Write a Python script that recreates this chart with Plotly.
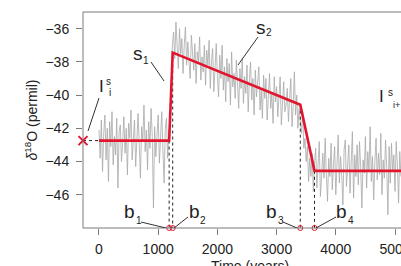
import plotly.graph_objects as go

# ---------------- data ----------------
time_step = 20  # years between samples, first sample at 0
d18o = [
    # 0 - 1180
    -42.1, -43.8, -41.5, -44.6, -42.3, -41.2, -43.9, -42.0, -45.2, -41.6,
    -43.1, -41.0, -44.2, -42.5, -43.6, -41.4, -45.6, -42.2, -41.8, -44.0,
    -42.9, -41.3, -43.5, -42.0, -44.8, -41.7, -42.6, -40.9, -43.9, -42.4,
    -41.5, -44.3, -42.8, -41.1, -43.0, -45.0, -41.9, -42.7, -40.6, -43.4,
    -42.1, -44.5, -41.6, -43.2, -40.8, -42.5, -46.8, -41.9, -43.7, -42.3,
    -41.2, -44.1, -42.6, -41.0, -43.3, -45.3, -42.0, -41.4, -43.8, -42.2,
    # 1200 - 3380
    -41.8, -39.2, -37.0, -36.2, -37.8, -35.6, -37.1, -38.4, -36.0, -37.5,
    -36.6, -38.7, -37.0, -35.9, -38.2, -36.8, -37.9, -39.0, -36.4, -37.6,
    -38.5, -36.9, -39.3, -37.4, -38.0, -36.5, -39.1, -37.7, -38.6, -37.0,
    -39.4, -37.3, -38.2, -36.7, -39.6, -38.0, -37.2, -39.8, -38.5, -36.9,
    -38.9, -40.1, -37.6, -39.0, -37.0, -39.7, -38.3, -40.4, -37.8, -39.2,
    -38.1, -40.6, -37.4, -39.5, -38.7, -40.2, -37.9, -39.3, -40.8, -38.4,
    -39.6, -37.8, -40.5, -38.9, -39.9, -38.2, -41.0, -39.1, -38.0, -40.3,
    -39.0, -41.2, -38.5, -40.1, -39.4, -38.3, -40.9, -39.7, -41.4, -38.8,
    -40.2, -39.0, -41.5, -39.6, -38.7, -40.8, -39.9, -41.7, -38.9, -40.4,
    -39.5, -41.3, -40.0, -38.9, -41.8, -40.3, -39.2, -41.0, -40.6, -39.6,
    -41.6, -40.2, -39.0, -41.9, -40.7, -38.6, -41.2, -40.0, -42.0, -40.8,
    # 3400 - 3640
    -41.5, -42.3, -41.0, -43.2, -42.6, -44.0, -43.1, -45.2, -43.8, -44.9,
    -43.5, -45.8, -44.1,
    # 3660 - 5100
    -43.2, -45.6, -44.0, -42.8, -46.1, -44.5, -43.5, -45.0, -42.6, -44.8,
    -46.4, -43.8, -44.9, -42.9, -45.7, -44.2, -43.1, -46.0, -44.6, -42.4,
    -45.3, -43.7, -44.8, -46.6, -43.3, -42.7, -45.5, -44.1, -43.0, -45.9,
    -44.4, -42.2, -46.2, -43.6, -44.9, -43.0, -45.4, -42.8, -44.3, -46.8,
    -43.9, -44.7, -42.5, -45.6, -43.4, -44.6, -41.9, -45.2, -43.7, -46.3,
    -44.0, -42.6, -45.1, -43.5, -44.8, -42.3, -46.0, -43.9, -45.0, -42.7,
    -44.4, -47.2, -43.1, -45.3, -42.9, -44.6, -43.6, -45.8, -42.8, -44.2,
    -46.5, -43.4, -44.9,
]
time = [i * time_step for i in range(len(d18o))]

# fitted piecewise-linear model
start_time = -270          # I^s_i position
level_i = -42.74           # initial level
breaks = [1185, 1245, 3400, 3640]   # b1..b4
break_vals = [-42.74, -37.44, -40.58, -44.56]
end_time = 5140
level_end = -44.56

xtick_vals = [0, 1000, 2000, 3000, 4000, 5000]
ytick_vals = [-46, -44, -42, -40, -38, -36]

# ---------------- figure ----------------
X0, X1 = -270, 5101
Y0, Y1 = -48, -35
L, R, T, B = 83, 401, 12, 228
W, H = 401, 266


def tx(px):
    return X0 + (px - L) * (X1 - X0) / (R - L)


def vy(py):
    return Y1 - (py - T) * (Y1 - Y0) / (B - T)


red = "#e2152e"
axc = "#7a7a7a"
fig = go.Figure()

fig.add_trace(go.Scatter(x=time, y=d18o, mode="lines",
                         line=dict(color="#a8a8a8", width=0.8),
                         hoverinfo="skip"))

# dotted verticals at breakpoints
for b, v in zip(breaks, break_vals):
    fig.add_trace(go.Scatter(x=[b, b], y=[v, Y0], mode="lines",
                             line=dict(color="#222", width=1, dash="dot")))

# dotted line from I^s_i to first data
fig.add_trace(go.Scatter(x=[start_time, 0], y=[level_i, level_i], mode="lines",
                         line=dict(color="#222", width=1, dash="dot")))

# red model line
fig.add_trace(go.Scatter(x=[0] + breaks + [end_time],
                         y=[level_i] + break_vals + [level_end],
                         mode="lines", line=dict(color=red, width=2.6)))

# X marker
fig.add_trace(go.Scatter(x=[start_time], y=[level_i], mode="markers",
                         marker=dict(symbol="x-thin", size=9, color=red,
                                     line=dict(color=red, width=2)),
                         cliponaxis=False))

# break circles on axis
fig.add_trace(go.Scatter(x=breaks, y=[Y0] * 4, mode="markers",
                         marker=dict(symbol="circle-open", size=5, color=red,
                                     line=dict(color=red, width=1)),
                         cliponaxis=False))

font_main = "Liberation Sans, Arial, sans-serif"
tc = "#222"
ann = []


def txt(px, py, s, size):
    ann.append(dict(x=tx(px), y=vy(py), xref="x", yref="y", text=s,
                    showarrow=False, xanchor="center", yanchor="middle",
                    font=dict(size=size, color=tc, family=font_main)))


# I^s_i
txt(101.5, 86, "I", 17)
txt(108.5, 81.5, "s", 10)
txt(110, 92, "i", 10)
# s1
txt(138, 53, "s", 19)
txt(145.5, 60, "1", 10)
# s2
txt(261, 27, "s", 19)
txt(269, 32, "2", 10)
# I^s_i+
txt(381.5, 96, "I", 17)
txt(390, 92, "s", 10)
txt(396, 105, "i+", 9)
# b labels
txt(129, 211, "b", 19)
txt(138.5, 220, "1", 10)
txt(194, 211, "b", 19)
txt(203, 220, "2", 10)
txt(271, 211, "b", 19)
txt(280.5, 220, "3", 10)
txt(341.5, 211, "b", 19)
txt(351, 220, "4", 10)

# x title (cut by the page bottom, as in the reference)
ann.append(dict(x=(250 - L) / (R - L), y=(B - 256) / (B - T), xref="paper",
                yref="paper", text="Time (years)", showarrow=False,
                xanchor="center", yanchor="top",
                font=dict(size=14, color=tc, family=font_main)))

# frame lines (left, bottom, top)
shapes = [
    dict(type="line", xref="paper", yref="paper", x0=0, x1=1.05,
         y0=1, y1=1, line=dict(color=axc, width=1)),
    dict(type="line", xref="paper", yref="paper", x0=0, x1=1.05,
         y0=0, y1=0, line=dict(color=axc, width=1)),
    dict(type="line", xref="paper", yref="paper", x0=0, x1=0,
         y0=0, y1=1, line=dict(color=axc, width=1)),
]


def seg(p1, p2):
    shapes.append(dict(type="line", xref="x", yref="y",
                       x0=tx(p1[0]), y0=vy(p1[1]), x1=tx(p2[0]), y1=vy(p2[1]),
                       line=dict(color="#333", width=1)))


seg((99, 98), (88, 131))
seg((151, 62), (164, 81))
seg((258, 37), (238, 65))
seg((141, 222), (166, 228))
seg((174, 228), (188, 217))
seg((283, 222), (297, 228))
seg((316, 228), (336, 217))

fig.update_layout(
    template="none",
    width=W, height=H,
    margin=dict(l=L, r=W - R, t=T, b=H - B, pad=0),
    paper_bgcolor="white", plot_bgcolor="white",
    showlegend=False, dragmode=False, hovermode=False,
    annotations=ann, shapes=shapes,
    font=dict(family=font_main, size=14, color=tc),
)
fig.update_xaxes(range=[X0, X1], tickvals=xtick_vals,
                 ticktext=[str(v) for v in xtick_vals],
                 ticklabeloverflow="allow",
                 showgrid=False, zeroline=False, showline=False,
                 ticks="outside", ticklen=6, tickcolor=axc, tickwidth=1,
                 ticklabelstandoff=2, fixedrange=True,
                 tickfont=dict(size=14, color=tc))
fig.update_yaxes(range=[Y0, Y1], tickvals=ytick_vals,
                 ticktext=["\u2212" + str(abs(v)) for v in ytick_vals],
                 showgrid=False, zeroline=False, showline=False,
                 ticks="outside", ticklen=6, tickcolor=axc, tickwidth=1,
                 ticklabelstandoff=4, fixedrange=True,
                 tickfont=dict(size=14, color=tc),
                 title=dict(text="<i>δ</i><sup>18</sup>O (permil)",
                            font=dict(size=14, color=tc), standoff=4))

fig.write_html("out.html", config={"staticPlot": True, "displayModeBar": False})
